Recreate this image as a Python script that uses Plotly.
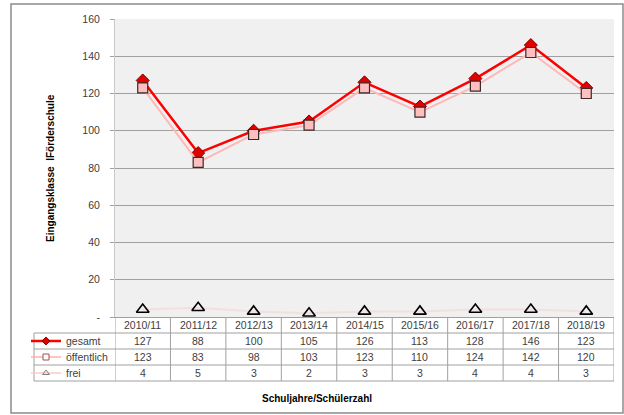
import plotly.graph_objects as go

categories = ["2010/11", "2011/12", "2012/13", "2013/14", "2014/15",
              "2015/16", "2016/17", "2017/18", "2018/19"]
gesamt = [127, 88, 100, 105, 126, 113, 128, 146, 123]
oeffentlich = [123, 83, 98, 103, 123, 110, 124, 142, 120]
frei = [4, 5, 3, 2, 3, 3, 4, 4, 3]
series_names = ["gesamt", "öffentlich", "frei"]
y_ticks = [0, 20, 40, 60, 80, 100, 120, 140, 160]
y_ticktext = ["-", "20", "40", "60", "80", "100", "120", "140", "160"]

W, H = 624, 415
L, R, T, B = 115, 10, 19, 98
PW, PH = W - L - R, H - T - B


def px_x(px):
    return (px - L) / PW


def px_y(py):
    return (H - B - py) / PH


FONT = "Liberation Sans, Arial, sans-serif"
TXT = "#404040"
GRID = "#A0A0A0"

fig = go.Figure()
idx = list(range(len(categories)))

styles = [
    dict(line=dict(color="#FF0000", width=2.5),
         marker=dict(symbol="diamond", color="#E00000",
                     line=dict(color="#800000", width=1))),
    dict(line=dict(color="#FFB8B8", width=2),
         marker=dict(symbol="square", color="#FFBFBF",
                     line=dict(color="#3A2A2A", width=1.2))),
    dict(line=dict(color="rgba(255,190,190,0.35)", width=2),
         marker=dict(symbol="triangle-up-open", color="#000000",
                     line=dict(color="#000000", width=1.6))),
]
main_sizes = [10, 10, 11]
legend_sizes = [6, 6, 6]
legend_keys = ["legend", "legend2", "legend3"]
values = [gesamt, oeffentlich, frei]

for i in range(3):
    st = styles[i]
    fig.add_trace(go.Scatter(
        x=idx, y=values[i], name=series_names[i], mode="lines+markers",
        line=st["line"], marker=dict(st["marker"], size=main_sizes[i]),
        showlegend=False))

# legend-only entries (small keys as in the data table)
legend_line_colors = ["#FF0000", "#FFB0B0", "#FFC8C8"]
legend_marker_colors = [("#E00000", "#800000"), ("#FFFFFF", "#A05050"),
                        ("#808080", "#808080")]
for i in range(3):
    mk = dict(symbol=styles[i]["marker"]["symbol"], size=legend_sizes[i],
              color=legend_marker_colors[i][0],
              line=dict(color=legend_marker_colors[i][1], width=1))
    fig.add_trace(go.Scatter(
        x=[None], y=[None], name=series_names[i], mode="lines+markers",
        line=dict(color=legend_line_colors[i], width=2.5 if i == 0 else 1.5),
        marker=mk, legend=legend_keys[i], hoverinfo="skip"))

row_centers = [341, 357, 373]
for i, key in enumerate(legend_keys):
    fig.update_layout({key: dict(
        x=px_x(26), y=px_y(row_centers[i]), xanchor="left", yanchor="middle",
        bgcolor="rgba(0,0,0,0)", font=dict(family=FONT, size=10.5, color=TXT),
        itemwidth=30, borderwidth=0)})

shapes = []
shapes.append(dict(type="rect", xref="paper", yref="paper",
                   x0=px_x(11), x1=px_x(623), y0=px_y(413), y1=px_y(4),
                   line=dict(color="#8C8C8C", width=1.5), layer="below"))
for py in [333, 349, 365, 381]:
    shapes.append(dict(type="line", xref="paper", yref="paper",
                       x0=px_x(34), x1=1, y0=px_y(py), y1=px_y(py),
                       line=dict(color=GRID, width=1)))
n = len(categories)
for k in range(n + 1):
    shapes.append(dict(type="line", xref="x", yref="paper",
                       x0=k - 0.5, x1=k - 0.5, y0=0, y1=px_y(381),
                       line=dict(color=GRID, width=1)))
shapes.append(dict(type="line", xref="paper", yref="paper",
                   x0=px_x(34), x1=px_x(34), y0=px_y(333), y1=px_y(381),
                   line=dict(color=GRID, width=1)))

annotations = []
for k, c in enumerate(categories):
    annotations.append(dict(
        x=k, xref="x", y=px_y(325), yref="paper", text=c, showarrow=False,
        xanchor="center", yanchor="middle",
        font=dict(family=FONT, size=10.5, color=TXT)))
for r, vals in enumerate(values):
    for k, v in enumerate(vals):
        annotations.append(dict(
            x=k, xref="x", y=px_y(row_centers[r]), yref="paper",
            text=str(v), showarrow=False, xanchor="center", yanchor="middle",
            font=dict(family=FONT, size=10.5, color=TXT)))
annotations.append(dict(
    x=px_x(50), xref="paper", y=px_y(168), yref="paper",
    text="<b>Eingangsklasse  lFörderschule</b>", textangle=-90,
    showarrow=False, xanchor="center", yanchor="middle",
    font=dict(family=FONT, size=10, color="#000000")))
annotations.append(dict(
    x=px_x(317), xref="paper", y=px_y(398), yref="paper",
    text="<b>Schuljahre/Schülerzahl</b>",
    showarrow=False, xanchor="center", yanchor="middle",
    font=dict(family=FONT, size=10, color="#000000")))

fig.update_layout(
    width=W, height=H,
    margin=dict(l=L, r=R, t=T, b=B, pad=0),
    paper_bgcolor="white", plot_bgcolor="#F0F0F0",
    showlegend=True,
    shapes=shapes, annotations=annotations,
    xaxis=dict(range=[-0.5, n - 0.5], tickmode="array", tickvals=idx,
               showticklabels=False, showgrid=False, zeroline=False,
               showline=True, linecolor=GRID, linewidth=1, ticks=""),
    yaxis=dict(range=[0, 160], tickmode="array", tickvals=y_ticks,
               ticktext=y_ticktext, showgrid=True, gridcolor=GRID,
               gridwidth=1, zeroline=False, showline=True,
               linecolor="#C8C8C8", linewidth=1, ticks="outside",
               ticklen=4, tickcolor=GRID, ticklabelstandoff=8,
               tickfont=dict(family=FONT, size=10.5, color=TXT)),
)

fig.write_html(
    "out.html",
    config={"displayModeBar": False},
    post_script="document.body.style.margin='0';"
                "document.body.style.overflow='hidden';")
